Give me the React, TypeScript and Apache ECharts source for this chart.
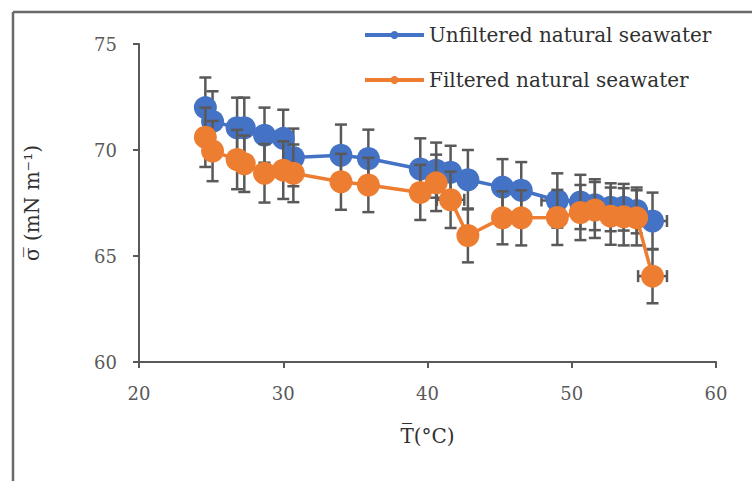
import React, { useEffect, useRef } from "react";
import * as echarts from "echarts";

// Temperature (°C) of each measurement
const temperature = [24.6, 25.1, 26.8, 27.3, 28.7, 30.0, 30.7, 34.0, 35.9, 39.5, 40.6, 41.6, 42.8, 45.2, 46.5, 49.0, 50.6, 51.6, 52.7, 53.6, 54.5, 55.6];

// Surface tension (mN m-1)
const unfiltered = [72.0, 71.35, 71.05, 71.05, 70.7, 70.55, 69.65, 69.75, 69.6, 69.1, 69.05, 68.95, 68.6, 68.25, 68.1, 67.62, 67.55, 67.42, 67.3, 67.3, 67.15, 66.65];
const unfilteredErr = [1.42, 1.42, 1.42, 1.42, 1.3, 1.35, 1.36, 1.45, 1.36, 1.45, 1.3, 1.25, 1.4, 1.32, 1.33, 1.28, 1.28, 1.2, 1.13, 1.1, 1.08, 1.34];
const unfilteredXErr = [0.5, 0.5, 0.5, 0.5, 0.5, 0.5, 0.5, 0.5, 0.5, 0.5, 0.5, 0.5, 0.5, 0.5, 0.5, 1.1, 0.5, 0.5, 0.5, 0.5, 0.5, 1.0];

const filtered = [70.6, 69.95, 69.55, 69.35, 68.9, 69.05, 68.9, 68.5, 68.35, 68.0, 68.45, 67.65, 65.97, 66.8, 66.8, 66.82, 67.05, 67.17, 66.88, 66.85, 66.8, 64.05];
const filteredErr = [1.4, 1.42, 1.4, 1.33, 1.38, 1.36, 1.36, 1.32, 1.28, 1.3, 1.33, 1.33, 1.27, 1.25, 1.3, 1.3, 1.3, 1.32, 1.35, 1.35, 1.3, 1.28];
const filteredXErr = [0.5, 0.5, 0.5, 0.5, 0.5, 0.5, 0.5, 0.5, 0.5, 0.5, 0.5, 0.95, 0.5, 0.5, 0.5, 0.5, 0.5, 0.5, 0.5, 0.5, 0.5, 1.0];

const seriesNames = ["Unfiltered natural seawater", "Filtered natural seawater"];
const xTicks = { min: 20, max: 60, interval: 10 };
const yTicks = { min: 60, max: 75, interval: 5 };

const FONT = "DejaVu Serif";
const AXIS_GRAY = "#595959";
const ERR_GRAY = "#595959";

const errRender = (_params: any, api: any) => {
  const x = api.value(0);
  const y = api.value(1);
  const ey = api.value(2);
  const ex = api.value(3);
  const top = api.coord([x, y + ey]);
  const bot = api.coord([x, y - ey]);
  const left = api.coord([x - ex, y]);
  const right = api.coord([x + ex, y]);
  const c = 6;
  const style = { stroke: ERR_GRAY, lineWidth: 2.5 };
  return {
    type: "group",
    children: [
      { type: "line", shape: { x1: top[0], y1: top[1], x2: bot[0], y2: bot[1] }, style },
      { type: "line", shape: { x1: top[0] - c, y1: top[1], x2: top[0] + c, y2: top[1] }, style },
      { type: "line", shape: { x1: bot[0] - c, y1: bot[1], x2: bot[0] + c, y2: bot[1] }, style },
      { type: "line", shape: { x1: left[0], y1: left[1], x2: right[0], y2: right[1] }, style },
      { type: "line", shape: { x1: left[0], y1: left[1] - c, x2: left[0], y2: left[1] + c }, style },
      { type: "line", shape: { x1: right[0], y1: right[1] - c, x2: right[0], y2: right[1] + c }, style },
    ],
  };
};

export default function App() {
  const ref = useRef<HTMLDivElement>(null);

  useEffect(() => {
    if (!ref.current) return;
    const chart = echarts.init(ref.current, undefined, { renderer: "svg" });

    const blueData = temperature.map((t, i) => [t, unfiltered[i]]);
    const orangeData = temperature.map((t, i) => [t, filtered[i]]);
    const blueErr = temperature.map((t, i) => [t, unfiltered[i], unfilteredErr[i], unfilteredXErr[i]]);
    const orangeErr = temperature.map((t, i) => [t, filtered[i], filteredErr[i], filteredXErr[i]]);

    chart.setOption({
      animation: false,
      backgroundColor: "#ffffff",
      textStyle: { fontFamily: FONT },
      grid: { left: 139, right: 36, top: 44, bottom: 119 },
      legend: {
        data: seriesNames,
        orient: "vertical",
        left: 363,
        top: 23,
        padding: 0,
        itemWidth: 59,
        itemHeight: 10,
        itemGap: 21,
        lineStyle: { width: 4 },
        textStyle: { fontFamily: FONT, fontSize: 20, color: "#303030", lineHeight: 24 },
      },
      xAxis: {
        type: "value",
        min: xTicks.min,
        max: xTicks.max,
        interval: xTicks.interval,
        name: "T\u0305(°C)",
        nameLocation: "middle",
        nameGap: 64,
        nameTextStyle: { fontFamily: FONT, fontSize: 20, color: "#303030" },
        axisLine: { show: true, lineStyle: { color: AXIS_GRAY, width: 2 } },
        axisTick: { show: true, length: 6, lineStyle: { color: AXIS_GRAY, width: 2 } },
        axisLabel: { fontFamily: FONT, fontSize: 18, color: AXIS_GRAY, margin: 22 },
        splitLine: { show: false },
      },
      yAxis: {
        type: "value",
        min: yTicks.min,
        max: yTicks.max,
        interval: yTicks.interval,
        name: "σ\u0305 (mN m⁻¹)",
        nameLocation: "middle",
        nameRotate: 90,
        nameGap: 97,
        nameTextStyle: { fontFamily: FONT, fontSize: 20, color: "#303030" },
        axisLine: { show: true, lineStyle: { color: AXIS_GRAY, width: 2 } },
        axisTick: { show: true, length: 6, lineStyle: { color: AXIS_GRAY, width: 2 } },
        axisLabel: { fontFamily: FONT, fontSize: 18, color: AXIS_GRAY, margin: 22 },
        splitLine: { show: false },
      },
      graphic: [
        { type: "line", shape: { x1: 13, y1: 12, x2: 752, y2: 12 }, style: { stroke: "#6a6a6a", lineWidth: 2.5 } },
        { type: "line", shape: { x1: 13, y1: 12, x2: 13, y2: 481 }, style: { stroke: "#6a6a6a", lineWidth: 2.5 } },
      ],
      series: [
        {
          name: "Unfiltered error",
          type: "custom",
          data: blueErr,
          renderItem: errRender,
          encode: { x: 0, y: 1 },
          z: 1,
        },
        {
          name: seriesNames[0],
          type: "line",
          data: blueData,
          symbol: "circle",
          symbolSize: 23,
          color: "#4472C4",
          lineStyle: { color: "#4472C4", width: 3.5 },
          itemStyle: { color: "#4472C4" },
          z: 2,
        },
        {
          name: "Filtered error",
          type: "custom",
          data: orangeErr,
          renderItem: errRender,
          encode: { x: 0, y: 1 },
          z: 3,
        },
        {
          name: seriesNames[1],
          type: "line",
          data: orangeData,
          symbol: "circle",
          symbolSize: 23,
          color: "#ED7D31",
          lineStyle: { color: "#ED7D31", width: 3.5 },
          itemStyle: { color: "#ED7D31" },
          z: 4,
        },
      ],
    });

    return () => chart.dispose();
  }, []);

  return (
    <div
      ref={ref}
      style={{ position: "fixed", left: 0, top: 0, width: 752, height: 481, background: "#fff" }}
    />
  );
}
